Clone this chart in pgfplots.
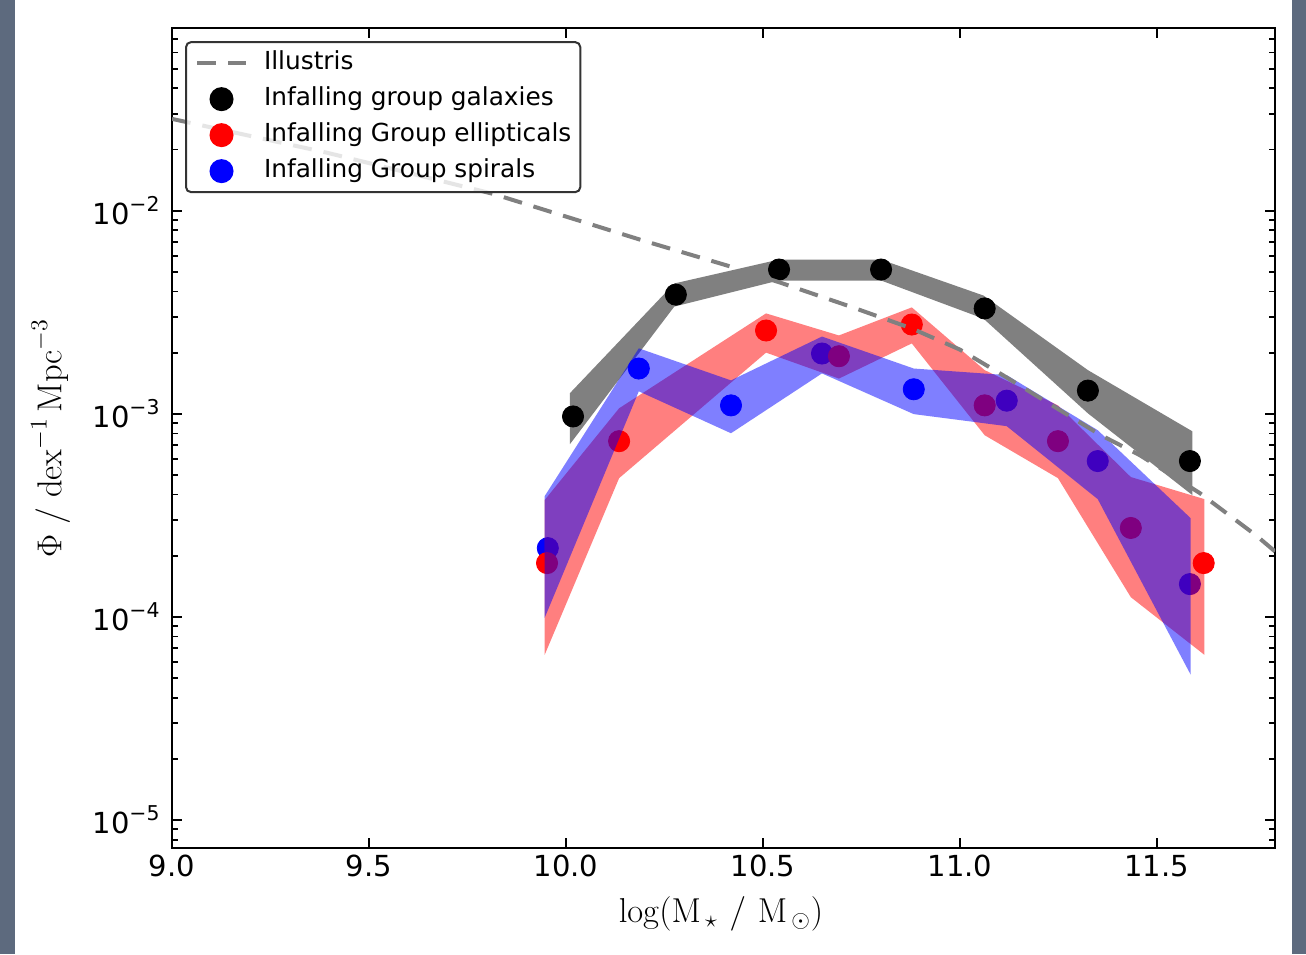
\documentclass[border=0pt]{standalone}
\usepackage[no-math]{fontspec}
\setmainfont{DejaVu Sans}
\usepackage{pgfplots}
\pgfplotsset{compat=1.18}
\definecolor{slate}{RGB}{93,106,126}
\definecolor{legframe}{RGB}{51,51,51}
\newcommand{\tenexp}[1]{10\raisebox{6.3pt}{\fontsize{10.2}{10}\selectfont −#1}}
\begin{document}
\begin{tikzpicture}
\useasboundingbox (0,0) rectangle (653pt,477pt);
\fill[slate] (0,0) rectangle (653pt,477pt);
\fill[white] (7.5pt,0) rectangle (646pt,477pt);
\begin{axis}[
  at={(86pt,53pt)}, anchor=south west, scale only axis,
  width=551.5pt, height=410pt,
  clip marker paths=true,
  xmin=9, xmax=11.8, ymode=log, ymin=7.28e-6, ymax=7.93e-2,
  xtick={9,9.5,10,10.5,11,11.5},
  xticklabels={9.0,9.5,10.0,10.5,11.0,11.5},
  ytick={1e-5,1e-4,1e-3,1e-2},
  yticklabels={\tenexp{5},\tenexp{4},\tenexp{3},\tenexp{2}},
  minor ytick={8e-6,9e-6,2e-5,3e-5,4e-5,5e-5,6e-5,7e-5,8e-5,9e-5,2e-4,3e-4,4e-4,5e-4,6e-4,7e-4,8e-4,9e-4,2e-3,3e-3,4e-3,5e-3,6e-3,7e-3,8e-3,9e-3,2e-2,3e-2,4e-2,5e-2,6e-2,7e-2},
  tick align=inside, major tick length=5pt, minor tick length=3pt,
  every tick/.style={black, line width=0.9pt},
  axis line style={line width=1.3pt},
  ticklabel style={font=\fontsize{14.5}{16}\selectfont},
  yticklabel style={xshift=-2.7pt},
  xlabel={$\log(\mathrm{M}_{\,\star}\mskip6mu/\mskip6mu\mathrm{M}_{\,\odot})$},
  ylabel={$\Phi\mskip5mu/\mskip5mu\mathrm{dex}^{-1}\,\mathrm{Mpc}^{-3}$},
  label style={font=\fontsize{18}{20}\selectfont},
  xlabel style={at={(axis description cs:0.4977,-0.0805)}, anchor=center, inner sep=0pt},
  ylabel style={at={(axis description cs:-0.1100,0.5)}, anchor=center, inner sep=0pt},
  legend style={at={(rel axis cs:0.0118,0.984)}, anchor=north west,
    draw=legframe, line width=1pt, rounded corners=2.5pt,
    fill=white, fill opacity=0.8, text opacity=1,
    inner xsep=4.5pt, inner ysep=1.5pt,
    font=\fontsize{12.4}{14}\selectfont,
    nodes={text height=9pt, text depth=3pt, inner ysep=3pt, inner xsep=0pt},
    column sep=8pt},
  legend cell align=left,
]
\addlegendimage{legend image code/.code={\draw[gray, line width=2pt, dash pattern=on 9.5pt off 6pt, draw opacity=1] (0pt,0pt) -- (24.5pt,0pt);}}
\addlegendentry{Illustris}
\addlegendimage{legend image code/.code={\fill[black, fill opacity=1] (12.25pt,0pt) circle[radius=5.5pt];}}
\addlegendentry{Infalling group galaxies}
\addlegendimage{legend image code/.code={\fill[red, fill opacity=1] (12.25pt,0pt) circle[radius=5.5pt];}}
\addlegendentry{Infalling Group ellipticals}
\addlegendimage{legend image code/.code={\fill[blue, fill opacity=1] (12.25pt,0pt) circle[radius=5.5pt];}}
\addlegendentry{Infalling Group spirals}

% gray band
\addplot[forget plot, draw=none, fill=gray] coordinates {
(10.01,1.262e-3) (10.275,4.38e-3) (10.54,5.74e-3) (10.80,5.74e-3) (11.06,3.82e-3) (11.325,1.64e-3) (11.59,8.20e-4)
(11.59,3.98e-4) (11.325,1.005e-3) (11.06,2.94e-3) (10.80,4.53e-3) (10.54,4.53e-3) (10.275,3.37e-3) (10.01,7.08e-4)
} -- cycle;
% black points
\addplot[forget plot, black, only marks, mark=*, mark size=5.3pt] coordinates {
(10.018,9.7e-4) (10.279,3.86e-3) (10.541,5.13e-3) (10.800,5.13e-3) (11.063,3.30e-3) (11.325,1.30e-3) (11.584,5.85e-4)
};
% blue points
\addplot[forget plot, blue, only marks, mark=*, mark size=5.3pt] coordinates {
(9.954,2.18e-4) (10.185,1.67e-3) (10.419,1.10e-3) (10.650,1.98e-3) (10.883,1.32e-3) (11.119,1.16e-3) (11.350,5.85e-4) (11.584,1.45e-4)
};
% red points
\addplot[forget plot, red, only marks, mark=*, mark size=5.3pt] coordinates {
(9.952,1.84e-4) (10.135,7.33e-4) (10.508,2.57e-3) (10.693,1.92e-3) (10.878,2.75e-3) (11.063,1.10e-3) (11.249,7.33e-4) (11.434,2.74e-4) (11.619,1.84e-4)
};
% red band
\addplot[forget plot, draw=none, fill=red, fill opacity=0.5] coordinates {
(9.946,3.76e-4) (10.135,1.064e-3) (10.508,3.12e-3) (10.693,2.43e-3) (10.878,3.34e-3) (11.063,1.64e-3) (11.249,1.10e-3) (11.434,4.88e-4) (11.621,3.80e-4)
(11.621,6.50e-5) (11.434,1.25e-4) (11.249,4.82e-4) (11.063,7.84e-4) (10.878,2.22e-3) (10.693,1.49e-3) (10.508,2.00e-3) (10.135,4.82e-4) (9.946,6.50e-5)
} -- cycle;
% blue band
\addplot[forget plot, draw=none, fill=blue, fill opacity=0.5] coordinates {
(9.946,3.93e-4) (10.185,2.10e-3) (10.419,1.46e-3) (10.650,2.40e-3) (10.883,1.67e-3) (11.119,1.55e-3) (11.350,8.30e-4) (11.586,3.06e-4)
(11.586,5.19e-5) (11.350,3.80e-4) (11.119,8.69e-4) (10.883,9.96e-4) (10.650,1.58e-3) (10.419,8.02e-4) (10.185,1.29e-3) (9.946,9.89e-5)
} -- cycle;
% Illustris
\addplot[forget plot, gray, line width=2pt, dash pattern=on 9.5pt off 6pt] coordinates {
(9.0,2.83e-2) (9.393,1.93e-2) (9.815,1.21e-2) (10.195,7.13e-3) (10.409,5.37e-3) (10.543,4.43e-3) (10.728,3.34e-3) (10.878,2.63e-3) (11.0,2.07e-3) (11.102,1.58e-3) (11.355,7.9e-4) (11.457,6.25e-4) (11.609,4.07e-4) (11.754,2.50e-4) (11.8,2.10e-4)
};
\end{axis}
\end{tikzpicture}
\end{document}
